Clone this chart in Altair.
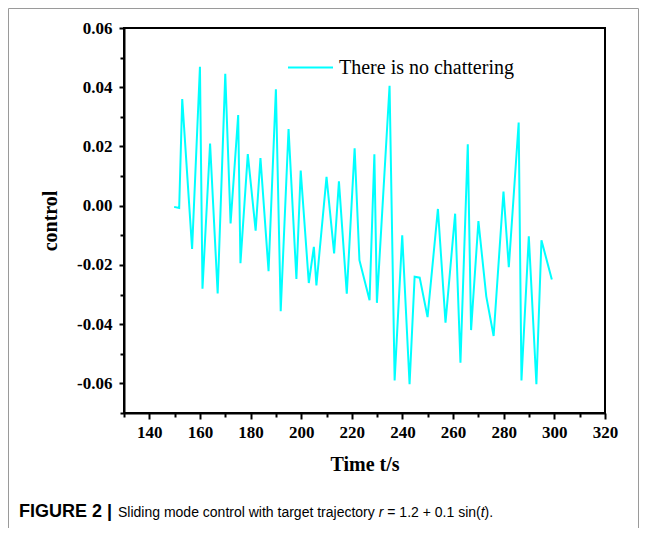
import altair as alt
import pandas as pd

# ---- data ----
t = [149.8, 151.8, 153.0, 156.9, 160.0, 161.0, 164.0, 167.0, 170.0, 172.1,
     175.1, 176.0, 178.9, 182.0, 183.9, 187.1, 190.0, 191.9, 195.0, 198.1,
     199.8, 203.0, 205.0, 206.0, 210.0, 213.0, 214.9, 218.0, 221.1, 223.0,
     227.0, 228.9, 229.9, 234.9, 236.9, 239.9, 242.8, 244.8, 246.8, 249.9,
     254.0, 257.0, 260.8, 262.9, 265.8, 267.1, 270.0, 273.1, 276.0, 279.9,
     282.0, 285.9, 287.0, 289.9, 292.9, 294.9, 299.0]
u = [-0.0004, -0.0008, 0.0360, -0.0146, 0.0469, -0.0280, 0.0210, -0.0296, 0.0445, -0.0060,
     0.0306, -0.0194, 0.0174, -0.0084, 0.0161, -0.0221, 0.0393, -0.0356, 0.0259, -0.0247,
     0.0119, -0.0261, -0.0139, -0.0269, 0.0097, -0.0161, 0.0082, -0.0297, 0.0194, -0.0184,
     -0.0319, 0.0174, -0.0328, 0.0405, -0.0590, -0.0100, -0.0603, -0.0240, -0.0243, -0.0376,
     -0.0011, -0.0395, -0.0027, -0.0530, 0.0207, -0.0420, -0.0052, -0.0306, -0.0440, 0.0048,
     -0.0208, 0.0281, -0.0590, -0.0103, -0.0603, -0.0117, -0.0249]
series_name = "There is no chattering"
x_major = [140, 160, 180, 200, 220, 240, 260, 280, 300, 320]
x_minor = [130, 150, 170, 190, 210, 230, 250, 270, 290, 310]
y_major = [-0.06, -0.04, -0.02, 0.0, 0.02, 0.04, 0.06]
y_minor = [-0.07, -0.05, -0.03, -0.01, 0.01, 0.03, 0.05]
x_title = "Time t/s"
y_title = "control"
caption_bold = "FIGURE 2 |"
caption_parts = ["Sliding mode control with target trajectory", "r", "= 1.2 + 0.1 sin(", "t", ")."]

df = pd.DataFrame({"t": t, "u": u, "series": series_name})

W, H = 481, 385
PAD_L, PAD_T = 116, 20
TOTAL_W, TOTAL_H = 631, 520

xscale = alt.Scale(domain=[130, 320], nice=False, zero=False)
yscale = alt.Scale(domain=[-0.07, 0.06], nice=False, zero=False)

axis_common = dict(
    grid=False, domainColor="black", domainWidth=2, tickColor="black", tickWidth=2,
    labelFont="Liberation Serif", labelFontWeight="bold", labelFontSize=17, labelColor="black",
    titleFont="Liberation Serif", titleFontWeight="bold", titleFontSize=20, titleColor="black",
    labelFlush=False,
)

line = alt.Chart(df).mark_line(strokeWidth=2, clip=True).encode(
    x=alt.X("t:Q", scale=xscale,
            axis=alt.Axis(values=x_major, title=x_title, format="d", tickSize=6,
                          labelPadding=5, titlePadding=14, orient="bottom", **axis_common)),
    y=alt.Y("u:Q", scale=yscale,
            axis=alt.Axis(values=y_major, title=y_title, tickSize=5, labelPadding=7,
                          titlePadding=16, orient="left",
                          labelExpr="(datum.value < 0 ? '-' : '') + format(abs(datum.value), '.2f')",
                          **axis_common)),
    color=alt.Color("series:N",
                    scale=alt.Scale(domain=[series_name], range=["#00FFFF"]),
                    legend=alt.Legend(orient="none", legendX=163, legendY=16, title=None,
                                      symbolType="stroke", symbolSize=2025, symbolStrokeWidth=2,
                                      labelFont="Liberation Serif", labelFontSize=20,
                                      labelColor="black", labelOffset=5, labelLimit=0, padding=0)),
)

minor = alt.Chart(df).mark_point(opacity=0).encode(
    x=alt.X("t:Q", scale=xscale,
            axis=alt.Axis(values=x_minor, labels=False, domain=False, title=None, grid=False,
                          tickSize=4, tickWidth=2, tickColor="black", orient="bottom")),
    y=alt.Y("u:Q", scale=yscale,
            axis=alt.Axis(values=y_minor, labels=False, domain=False, title=None, grid=False,
                          tickSize=4, tickWidth=2, tickColor="black", orient="left")),
)

# caption pieces (positions relative to plot origin)
cap_y = 489
cap_bold = alt.Chart(pd.DataFrame({"txt": [caption_bold]})).mark_text(
    align="left", baseline="alphabetic", font="Liberation Sans", fontWeight="bold",
    fontSize=18, color="black"
).encode(x=alt.value(-105), y=alt.value(cap_y), text="txt:N")

offsets = [-6, 254.7, 263.3, 356.7, 360.6]
styles = ["normal", "italic", "normal", "italic", "normal"]
cap_layers = []
for part, off, sty in zip(caption_parts, offsets, styles):
    cap_layers.append(
        alt.Chart(pd.DataFrame({"txt": [part]})).mark_text(
            align="left", baseline="alphabetic", font="Liberation Sans", fontStyle=sty,
            fontSize=14, color="black"
        ).encode(x=alt.value(off), y=alt.value(cap_y), text="txt:N")
    )

frame_df = pd.DataFrame({"k": [0]})
frame_left = alt.Chart(frame_df).mark_rule(color="#9a9a9a", strokeWidth=1).encode(
    x=alt.value(-115.5), y=alt.value(-19.5), y2=alt.value(500))
frame_right = alt.Chart(frame_df).mark_rule(color="#9a9a9a", strokeWidth=1).encode(
    x=alt.value(514.5), y=alt.value(-19.5), y2=alt.value(500))
frame_top = alt.Chart(frame_df).mark_rule(color="#9a9a9a", strokeWidth=1).encode(
    x=alt.value(-115.5), x2=alt.value(514.5), y=alt.value(-19.5))

chart = alt.layer(
    line, minor, cap_bold, *cap_layers, frame_left, frame_right, frame_top
).resolve_axis(x="independent", y="independent").properties(
    width=W, height=H,
    autosize=alt.AutoSizeParams(type="none"),
    padding={"left": PAD_L, "top": PAD_T, "right": TOTAL_W - PAD_L - W, "bottom": TOTAL_H - PAD_T - H},
    background="white",
).configure_view(stroke="black", strokeWidth=2)

chart.save("out.html", embed_options={"renderer": "svg", "actions": False})
